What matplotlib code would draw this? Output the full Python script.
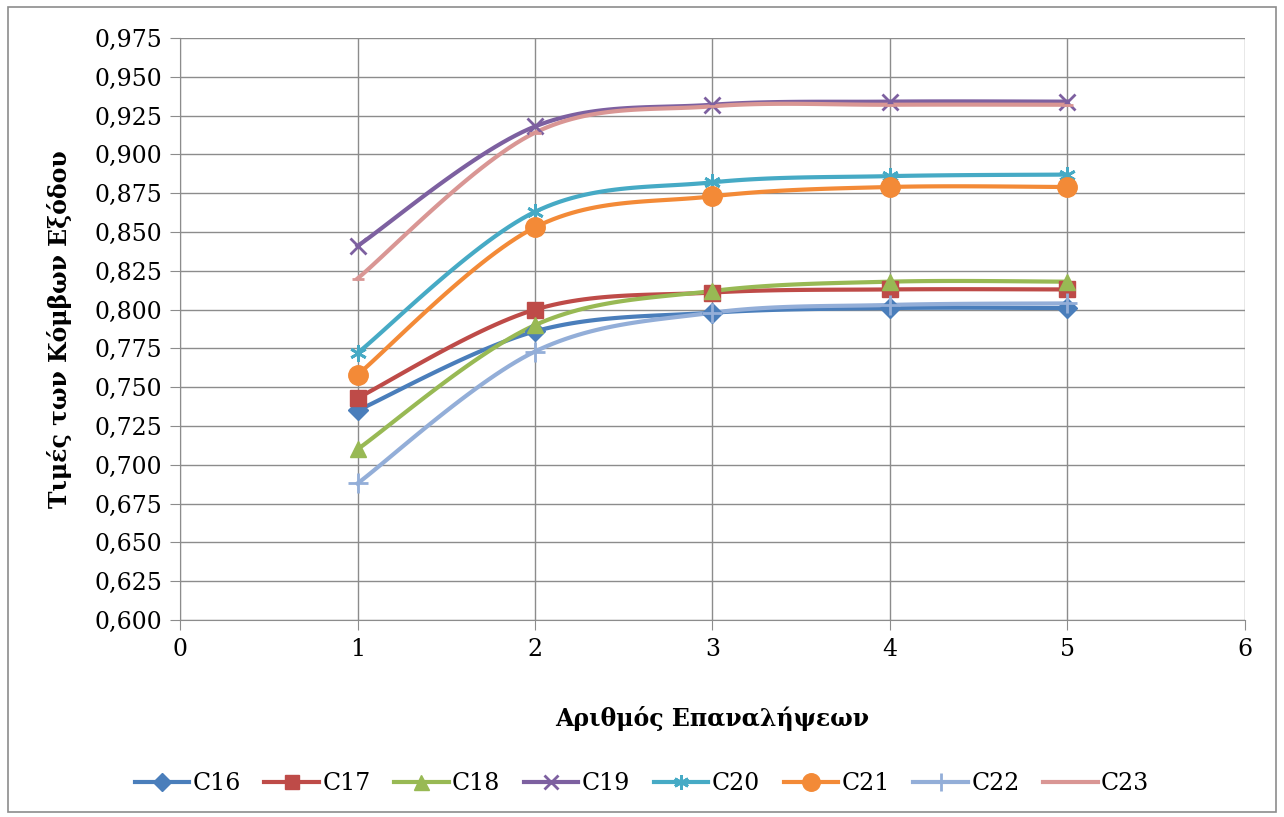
import numpy as np
import matplotlib
matplotlib.use("Agg")
from matplotlib import pyplot as plt
from matplotlib.patches import Rectangle
from matplotlib.ticker import FuncFormatter

plt.rcParams['font.family'] = ['DejaVu Serif']

iterations = [1, 2, 3, 4, 5]
series_names = ["C16", "C17", "C18", "C19", "C20", "C21", "C22", "C23"]
c16 = [0.735, 0.786, 0.798, 0.801, 0.801]
c17 = [0.743, 0.800, 0.811, 0.813, 0.813]
c18 = [0.710, 0.790, 0.812, 0.818, 0.818]
c19 = [0.841, 0.918, 0.932, 0.934, 0.934]
c20 = [0.772, 0.863, 0.882, 0.886, 0.887]
c21 = [0.758, 0.853, 0.873, 0.879, 0.879]
c22 = [0.688, 0.773, 0.798, 0.803, 0.804]
c23 = [0.820, 0.914, 0.931, 0.932, 0.932]
values = [c16, c17, c18, c19, c20, c21, c22, c23]

colors = ["#4A7EBB", "#BE4B48", "#98B954", "#7D60A0", "#46AAC5", "#F38A37", "#93AED8", "#D99694"]
markers = ["D", "s", "^", "x", (6, 2, 0), "o", "+", "_"]
msizes = [10, 11, 12, 11, 12, 14, 14, 9]


def smooth(xs, ys, n=30):
    # excel-like smoothed line: cubic bezier through the points
    xs = np.asarray(xs, float)
    ys = np.asarray(ys, float)
    px = np.concatenate([[xs[0]], xs, [xs[-1]]])
    py = np.concatenate([[ys[0]], ys, [ys[-1]]])
    out_x, out_y = [], []
    t = np.linspace(0, 1, n)
    for i in range(1, len(px) - 2):
        p0 = np.array([px[i], py[i]])
        p3 = np.array([px[i + 1], py[i + 1]])
        p1 = p0 + (np.array([px[i + 1], py[i + 1]]) - np.array([px[i - 1], py[i - 1]])) / 6
        p2 = p3 - (np.array([px[i + 2], py[i + 2]]) - np.array([px[i], py[i]])) / 6
        b = ((1 - t) ** 3)[:, None] * p0 + (3 * (1 - t) ** 2 * t)[:, None] * p1 \
            + (3 * (1 - t) * t ** 2)[:, None] * p2 + (t ** 3)[:, None] * p3
        out_x.extend(b[:, 0])
        out_y.extend(b[:, 1])
    return out_x, out_y


fig = plt.figure(figsize=(12.84, 8.17), dpi=100)
fig.patches.append(Rectangle((0.006, 0.006), 0.988, 0.986, transform=fig.transFigure,
                             fill=False, edgecolor="#8c8c8c", linewidth=1.2))
ax = fig.add_axes([0.1402, 0.2411, 0.8294, 0.7124])

for name, ys, c, m, ms in zip(series_names, values, colors, markers, msizes):
    sx, sy = smooth(iterations, ys)
    ax.plot(sx, sy, color=c, linewidth=3, zorder=3)
    mew = 2 if m in ("x", "+", "_") or isinstance(m, tuple) else 1
    ax.plot(iterations, ys, linestyle="none", marker=m, markersize=ms, color=c,
            markeredgecolor=c, markeredgewidth=mew, zorder=4)
    ax.plot([], [], color=c, linewidth=3, marker=m, markersize=ms * 0.9,
            markeredgewidth=mew, label=name)

ax.set_xlim(0, 6)
ax.set_ylim(0.6, 0.975)
ax.set_xticks(range(0, 7))
ax.set_yticks(np.arange(0.6, 0.9751, 0.025))
ax.yaxis.set_major_formatter(FuncFormatter(lambda v, p: f"{v:.3f}".replace(".", ",")))
ax.grid(True, color="#8c8c8c", linewidth=1)
ax.set_axisbelow(True)
for s in ["top", "right"]:
    ax.spines[s].set_visible(False)
for s in ["left", "bottom"]:
    ax.spines[s].set_color("#8c8c8c")
ax.tick_params(direction="out", length=7, color="#8c8c8c", labelsize=17, pad=6)

ax.set_xlabel("Αριθμός Επαναλήψεων", fontsize=17, fontweight="bold", labelpad=32)
ax.set_ylabel("Τιμές των Κόμβων Εξόδου", fontsize=17, fontweight="bold", labelpad=16)

fig.legend(loc="center", bbox_to_anchor=(0.5, 0.041), ncol=8, frameon=False,
           fontsize=17, handlelength=2.3, columnspacing=1.0, handletextpad=0.15)

fig.savefig("out.png", dpi=100)
